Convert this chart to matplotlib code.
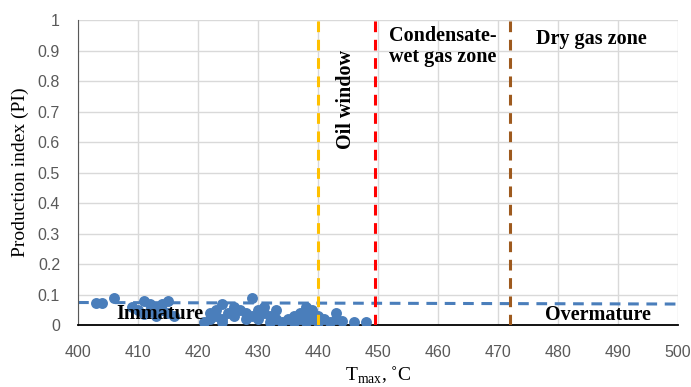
import matplotlib
matplotlib.use("Agg")
import matplotlib.pyplot as plt

# Tmax (C) and production index of samples
tmax = [403, 404, 406, 409, 410, 411, 411, 412, 412, 413, 413, 414, 414, 415, 415, 416,
        421, 422, 422, 423, 423, 424, 424, 424, 425, 426, 426, 427, 428, 428, 429, 429,
        430, 430, 431, 431, 432, 432, 433, 433, 434, 435, 436, 436, 437, 437, 438, 438,
        438, 439, 439, 440, 440, 441, 442, 443, 443, 444, 446, 448]
pi = [0.072, 0.072, 0.09, 0.06, 0.05, 0.08, 0.035, 0.07, 0.045, 0.06, 0.03, 0.05, 0.07, 0.08, 0.04, 0.03,
      0.01, 0.02, 0.04, 0.03, 0.05, 0.07, 0.02, 0.01, 0.04, 0.06, 0.03, 0.05, 0.02, 0.04, 0.09, 0.03,
      0.05, 0.02, 0.04, 0.06, 0.01, 0.03, 0.05, 0.02, 0.01, 0.02, 0.03, 0.01, 0.02, 0.04, 0.06, 0.01,
      0.03, 0.02, 0.05, 0.01, 0.03, 0.02, 0.01, 0.04, 0.02, 0.015, 0.01, 0.01]

trend_x = [400, 500]
trend_y = [0.074, 0.069]

zone_lines = [440, 449.5, 472]
zone_colors = ["#FFC000", "#FF0000", "#9E5A1E"]

xticks = list(range(400, 501, 10))
yticks = [0, 0.1, 0.2, 0.3, 0.4, 0.5, 0.6, 0.7, 0.8, 0.9, 1]
ytick_labels = ["0", "0.1", "0.2", "0.3", "0.4", "0.5", "0.6", "0.7", "0.8", "0.9", "1"]

fig = plt.figure(figsize=(6.91, 3.87), dpi=100)
ax = fig.add_axes([0.113, 0.160, 0.868, 0.788])

ax.grid(True, color="#d9d9d9", linewidth=1)
ax.set_axisbelow(True)

ax.scatter(tmax, pi, s=62, color="#4a7ebb", zorder=3, linewidths=0)
ax.plot(trend_x, trend_y, color="#4a7ebb", linestyle=(0, (3.5, 2.5)), linewidth=2.2, zorder=2)

for xv, c in zip(zone_lines, zone_colors):
    ax.axvline(xv, color=c, linestyle=(0, (3.5, 2.5)), linewidth=2.2, zorder=4)

ax.set_xlim(400, 500)
ax.set_ylim(0, 1)
ax.set_xticks(xticks)
ax.set_yticks(yticks)
ax.set_yticklabels(ytick_labels)

for sp in ["top", "right"]:
    ax.spines[sp].set_visible(False)
ax.spines["bottom"].set_color("black")
ax.spines["bottom"].set_linewidth(1.3)
ax.spines["left"].set_color("#595959")
ax.tick_params(length=0, labelsize=11.5, labelcolor="#595959")
ax.tick_params(axis="x", pad=14)
ax.tick_params(axis="y", pad=13)
for lab in ax.get_xticklabels() + ax.get_yticklabels():
    lab.set_family("Liberation Sans")

serif = "Liberation Serif"
ax.set_ylabel("Production index (PI)", family=serif, fontsize=14, labelpad=6)
ax.set_xlabel(r"T$_{\mathregular{max}}$, ˚C", family=serif, fontsize=14, labelpad=4)

txt = dict(family=serif, fontsize=14.5, fontweight="bold", zorder=5)
ax.text(406.3, 0.037, "Immature", va="center", ha="left", **txt)
ax.text(477.8, 0.033, "Overmature", va="center", ha="left", **txt)
ax.text(444.6, 0.74, "Oil window", rotation=90, va="center", ha="center", **txt)
ax.text(451.8, 0.98, "Condensate-\nwet gas zone", va="top", ha="left", linespacing=1.05, **txt)
ax.text(476.3, 0.937, "Dry gas zone", va="center", ha="left", **txt)

fig.savefig("out.png", dpi=100)
